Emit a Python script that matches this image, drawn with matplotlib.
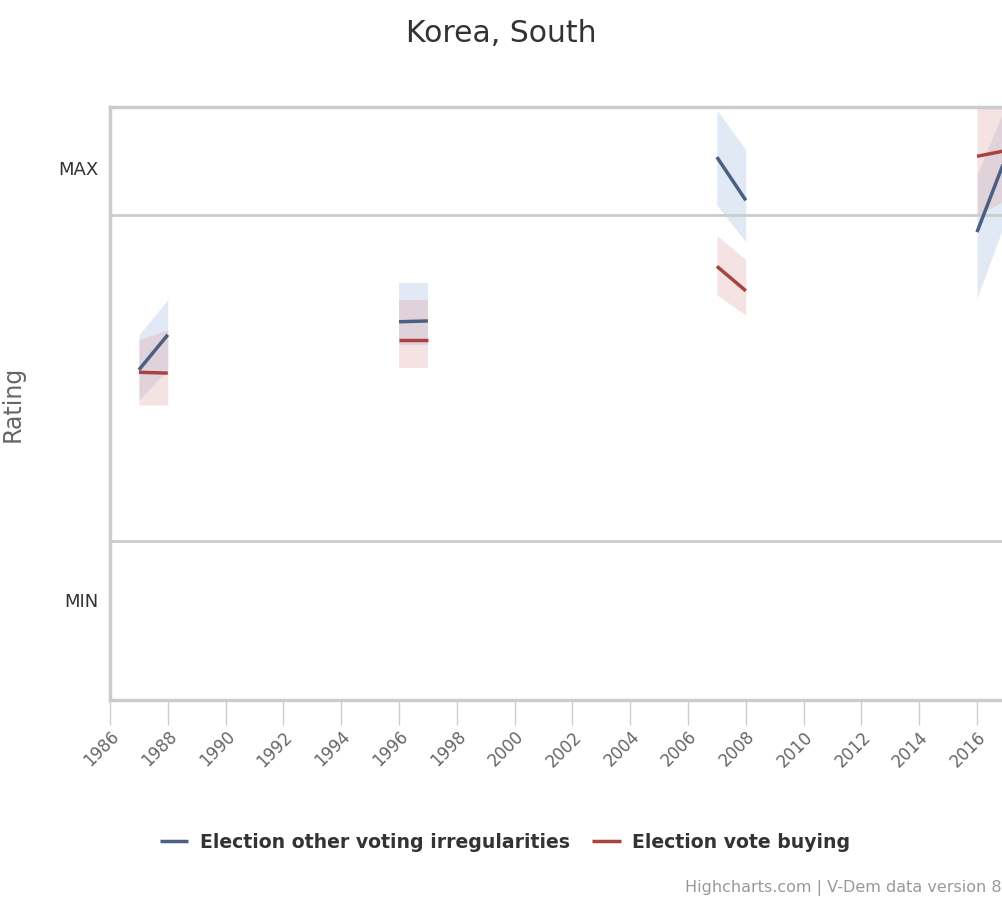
import matplotlib.pyplot as plt
import numpy as np

plt.rcParams['font.family'] = ['DejaVu Sans']

years = [1987, 1988, 1996, 1997, 2007, 2008, 2016, 2017]

irreg = [2.10, 2.53, 2.69, 2.70, 4.71, 4.18, 3.79, 4.71]
irreg_lo = [1.73, 2.10, 2.40, 2.40, 4.12, 3.67, 2.98, 3.94]
irreg_hi = [2.53, 2.96, 3.17, 3.17, 5.29, 4.80, 4.49, 5.35]

buying = [2.07, 2.06, 2.47, 2.47, 3.37, 3.07, 4.72, 4.79]
buying_lo = [1.67, 1.67, 2.12, 2.12, 3.02, 2.77, 4.00, 4.18]
buying_hi = [2.47, 2.59, 2.96, 2.96, 3.75, 3.45, 5.33, 5.47]

xticks = list(range(1986, 2020, 2))

fig = plt.figure(figsize=(10.03, 9), dpi=100)
ax = fig.add_axes([110 / 1003, 200 / 900, 954 / 1003, 593 / 900])

blue = '#4a5f82'
red = '#a8433f'

for i in range(0, len(years), 2):
    xs = years[i:i + 2]
    ax.fill_between(xs, irreg_lo[i:i + 2], irreg_hi[i:i + 2], color='#9db7dc', alpha=0.3, lw=0)
    ax.fill_between(xs, buying_lo[i:i + 2], buying_hi[i:i + 2], color='#e0a0a0', alpha=0.3, lw=0)
    ax.plot(xs, irreg[i:i + 2], color=blue, lw=2.5, solid_capstyle='butt',
            label='Election other voting irregularities' if i == 0 else None, zorder=3)
    ax.plot(xs, buying[i:i + 2], color=red, lw=2.5, solid_capstyle='butt',
            label='Election vote buying' if i == 0 else None, zorder=3)

ax.axhline(4, color='#cccccc', lw=2, zorder=1)
ax.axhline(0, color='#cccccc', lw=2, zorder=1)

ax.set_xlim(1986, 1986 + 954 / 28.9)
ax.set_ylim(-1.951, 5.325)

ax.set_xticks(xticks)
ax.set_xticklabels([str(y) for y in xticks], rotation=45, ha='right', va='top',
                   rotation_mode='anchor', color='#666666', fontsize=12)
ax.tick_params(axis='x', length=18, width=1, color='#cccccc', pad=2)

ax.set_yticks([4.577, -0.724])
ax.set_yticklabels(['MAX', 'MIN'], fontsize=13, color='#333333')
ax.tick_params(axis='y', length=0, pad=8)
ax.set_ylabel('Rating', fontsize=17, color='#666666')
ax.yaxis.set_label_coords(-85 / 954, 0.5)

for side in ['left', 'bottom', 'top']:
    ax.spines[side].set_color('#cccccc')
    ax.spines[side].set_linewidth(2.5)
ax.spines['right'].set_visible(False)

fig.text(501 / 1003, 1 - 33 / 900, 'Korea, South', ha='center', va='center', fontsize=21.5, color='#333333')

fig.legend(loc='center', bbox_to_anchor=(505 / 1003, 1 - 842 / 900), ncol=2, frameon=False,
           prop={'weight': 'bold', 'size': 13.6}, handlelength=1.5, columnspacing=1.2,
           handletextpad=0.6, labelcolor='#333333')

fig.text(685 / 1003, 1 - 888 / 900, 'Highcharts.com | V-Dem data version 8.0', ha='left', va='center',
         fontsize=11.5, color='#999999')

fig.savefig('out.png', dpi=100)
